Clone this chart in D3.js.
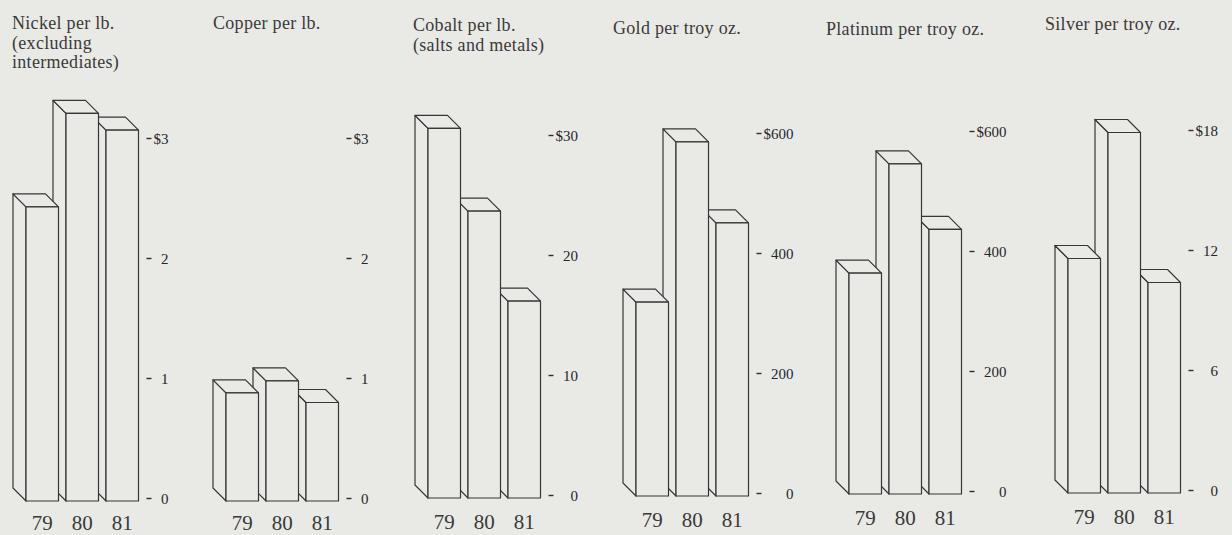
<!DOCTYPE html>
<html>
<head>
<meta charset="utf-8">
<script src="https://cdn.jsdelivr.net/npm/d3@7/dist/d3.min.js"></script>
<style>
  html, body { margin: 0; padding: 0; background: #e9e9e6; }
  svg { display: block; }
  text { font-family: "Liberation Serif", "DejaVu Serif", serif; fill: #333; }
</style>
</head>
<body>
<svg id="chart" width="1232" height="535"></svg>
<script>
// ---- data -------------------------------------------------------------
const years = ["79", "80", "81"];

const nickelTitle   = ["Nickel per lb.", "(excluding", "intermediates)"];
const copperTitle   = ["Copper per lb."];
const cobaltTitle   = ["Cobalt per lb.", "(salts and metals)"];
const goldTitle     = ["Gold per troy oz."];
const platinumTitle = ["Platinum per troy oz."];
const silverTitle   = ["Silver per troy oz."];

const nickelPrices   = [2.43, 3.21, 3.07];
const copperPrices   = [0.88, 0.98, 0.80];
const cobaltPrices   = [30.6, 23.7, 16.2];
const goldPrices     = [319, 586, 451];
const platinumPrices = [364, 546, 437];
const silverPrices   = [11.6, 17.9, 10.4];

const nickelTicks   = [0, 1, 2, 3];
const copperTicks   = [0, 1, 2, 3];
const cobaltTicks   = [0, 10, 20, 30];
const goldTicks     = [0, 200, 400, 600];
const platinumTicks = [0, 200, 400, 600];
const silverTicks   = [0, 6, 12, 18];

// ---- layout -----------------------------------------------------------
const frontLeft = [26, 226, 428, 636, 849, 1068];   // front face of first bar
const baseY     = [501, 501, 498, 496, 494, 493];   // bottom of the bars
const titleDx   = [-14, -13, -15, -23, -23, -23];   // title start relative to frontLeft
const titleY    = [29, 29, 31, 34, 35, 30];         // first title baseline
const depthX = 13, depthY = 13;                      // oblique depth of the boxes
const plotH = 360;                                   // pixels from 0 to top tick
const bg = "#e9e9e6", ink = "#363636";

const panels = [
  { title: nickelTitle,   values: nickelPrices,   ticks: nickelTicks },
  { title: copperTitle,   values: copperPrices,   ticks: copperTicks },
  { title: cobaltTitle,   values: cobaltPrices,   ticks: cobaltTicks },
  { title: goldTitle,     values: goldPrices,     ticks: goldTicks },
  { title: platinumTitle, values: platinumPrices, ticks: platinumTicks },
  { title: silverTitle,   values: silverPrices,   ticks: silverTicks }
];

const svg = d3.select("#chart");

panels.forEach((p, i) => {
  const g = svg.append("g");
  const zeroY = baseY[i] - 2.5;
  const top = p.ticks[p.ticks.length - 1];

  const y = d3.scaleLinear().domain([0, top]).range([zeroY, zeroY - plotH]);
  const x = d3.scaleBand().domain(years)
    .range([frontLeft[i], frontLeft[i] + 112.5])
    .paddingInner(0.1875).paddingOuter(0);
  const bw = x.bandwidth();

  // title
  const t = g.append("text")
    .attr("x", frontLeft[i] + titleDx[i])
    .attr("y", titleY[i])
    .style("font-size", "18px")
    .style("letter-spacing", "0.3px")
    .style("fill", "#3a3a3a");
  p.title.forEach((line, k) => {
    t.append("tspan").attr("x", frontLeft[i] + titleDx[i])
      .attr("dy", k === 0 ? 0 : 19.5).text(line);
  });

  // boxes, drawn right to left so nearer front faces cover side faces
  const rows = years.map((yr, k) => ({ yr, v: p.values[k] })).reverse();
  rows.forEach(d => {
    const x0 = x(d.yr), x1 = x0 + bw, yt = y(d.v), yb = baseY[i];
    const bar = g.append("g")
      .attr("fill", bg).attr("stroke", ink)
      .attr("stroke-width", 1.2).attr("stroke-linejoin", "round");
    // left side face
    bar.append("path").attr("d",
      `M${x0},${yt} L${x0 - depthX},${yt - depthY} L${x0 - depthX},${yb - depthY} L${x0},${yb} Z`);
    // top face
    bar.append("path").attr("d",
      `M${x0},${yt} L${x0 - depthX},${yt - depthY} L${x1 - depthX},${yt - depthY} L${x1},${yt} Z`);
    // front face
    bar.append("rect").attr("x", x0).attr("y", yt).attr("width", bw).attr("height", yb - yt);
  });

  // year labels
  g.selectAll("text.year").data(years).join("text")
    .attr("class", "year")
    .attr("x", d => x(d) + bw / 2)
    .attr("y", Math.min(baseY[i] + 31, 530))
    .attr("text-anchor", "middle")
    .style("font-size", "21px")
    .style("fill", "#3a3a3a")
    .text(d => d);

  // value axis on the right
  const dashX = frontLeft[i] + 112.5 + 8;
  const fmt = v => (v === top ? "$" : "") + v;
  const probe = g.append("text").style("font-size", "15px").text(fmt(top));
  const labelRight = dashX + 7 + probe.node().getComputedTextLength();
  probe.remove();

  const ax = g.append("g");
  ax.selectAll("line").data(p.ticks).join("line")
    .attr("x1", dashX).attr("x2", dashX + 5)
    .attr("y1", d => y(d)).attr("y2", d => y(d))
    .attr("stroke", "#2e2e2e").attr("stroke-width", 1.4);
  ax.selectAll("text").data(p.ticks).join("text")
    .attr("x", labelRight)
    .attr("y", d => y(d))
    .attr("dy", "0.35em")
    .attr("text-anchor", "end")
    .style("font-size", "15px")
    .style("fill", "#262626")
    .text(fmt);
});
</script>
</body>
</html>
